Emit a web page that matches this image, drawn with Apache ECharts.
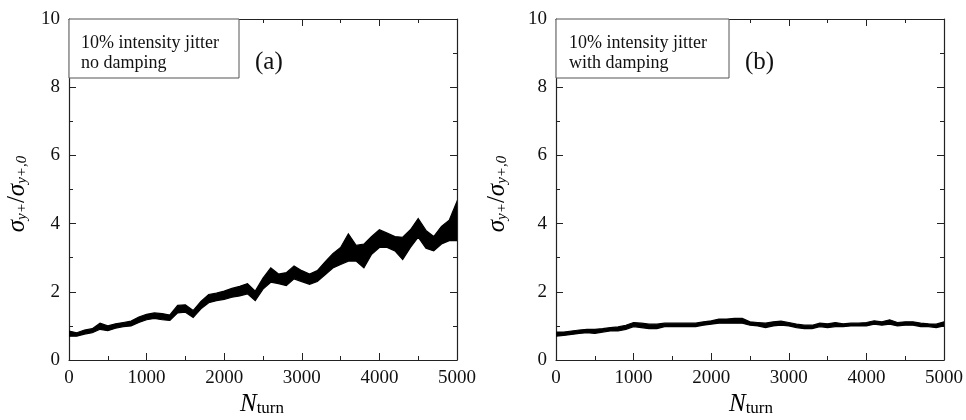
<!DOCTYPE html>
<html>
<head>
<meta charset="utf-8">
<script src="https://cdn.jsdelivr.net/npm/echarts@6/dist/echarts.min.js"></script>
<style>html,body{margin:0;padding:0;background:#fff}#c{width:966px;height:420px}</style>
</head>
<body>
<div id="c"></div>
<script>
// Turn numbers (every 100 turns)
const turns = [0,100,200,300,400,500,600,700,800,900,1000,1100,1200,1300,1400,1500,1600,1700,1800,1900,2000,2100,2200,2300,2400,2500,2600,2700,2800,2900,3000,3100,3200,3300,3400,3500,3600,3700,3800,3900,4000,4100,4200,4300,4400,4500,4600,4700,4800,4900,5000];
// Panel (a): no damping - lower / upper edge of the jitter band
const aLow  = [0.70,0.70,0.76,0.80,0.90,0.86,0.93,0.98,1.00,1.10,1.18,1.22,1.18,1.16,1.38,1.40,1.25,1.50,1.68,1.74,1.78,1.84,1.88,1.94,1.74,2.08,2.28,2.24,2.18,2.38,2.30,2.22,2.30,2.50,2.70,2.80,2.90,2.90,2.70,3.10,3.30,3.30,3.20,2.95,3.30,3.60,3.28,3.20,3.40,3.50,3.50];
const aHigh = [0.85,0.80,0.88,0.92,1.08,1.00,1.06,1.10,1.14,1.26,1.34,1.38,1.36,1.32,1.60,1.62,1.45,1.72,1.92,1.96,2.02,2.10,2.16,2.24,2.02,2.40,2.70,2.52,2.56,2.76,2.62,2.52,2.62,2.88,3.12,3.30,3.70,3.36,3.40,3.62,3.82,3.72,3.62,3.60,3.82,4.15,3.80,3.62,3.92,4.10,4.65];
// Panel (b): with damping
const bLow  = [0.70,0.72,0.75,0.78,0.80,0.78,0.82,0.85,0.85,0.90,0.98,0.95,0.92,0.92,0.98,0.98,0.98,0.98,0.98,1.02,1.05,1.08,1.08,1.08,1.08,1.02,1.00,0.95,1.00,1.02,1.00,0.95,0.92,0.92,0.98,0.95,0.98,0.98,1.00,1.00,1.00,1.05,1.02,1.05,1.00,1.02,1.02,0.98,0.98,0.95,1.00];
const bHigh = [0.82,0.82,0.85,0.88,0.90,0.90,0.92,0.95,0.97,1.02,1.10,1.08,1.05,1.05,1.08,1.08,1.08,1.08,1.08,1.12,1.15,1.20,1.20,1.22,1.22,1.12,1.10,1.08,1.12,1.14,1.10,1.05,1.02,1.02,1.08,1.06,1.10,1.06,1.08,1.08,1.10,1.15,1.12,1.18,1.10,1.12,1.12,1.08,1.06,1.05,1.12];
const xTicks = [0,1000,2000,3000,4000,5000];
const yTicks = [0,2,4,6,8,10];
const boxTexts = [['10% intensity jitter','no damping'],['10% intensity jitter','with damping']];
const panelTags = ['(a)','(b)'];

const chart = echarts.init(document.getElementById('c'));
const FONT = 'Liberation Serif';
const AX = '#222';
const grids = [
  {left:69, right:509, top:19, bottom:60},
  {left:556, right:21, top:19, bottom:60}
];
function xAx(g, pos){
  return {type:'value', gridIndex:g, position:pos, min:xTicks[0], max:xTicks[xTicks.length-1], interval:1000,
    axisLine:{show:true, onZero:false, lineStyle:{color:AX, width:1.2}},
    axisTick:{show:true, inside:true, length:7, lineStyle:{color:AX, width:1}},
    minorTick:{show:true, splitNumber:2, length:4, lineStyle:{color:AX, width:1}},
    splitLine:{show:false},
    axisLabel:{show:pos==='bottom', margin:9, fontFamily:FONT, fontSize:19, color:'#111', formatter:v=>String(v)}};
}
function yAx(g, pos){
  return {type:'value', gridIndex:g, position:pos, min:yTicks[0], max:yTicks[yTicks.length-1], interval:2,
    axisLine:{show:true, onZero:false, lineStyle:{color:AX, width:1.2}},
    axisTick:{show:true, inside:true, length:7, lineStyle:{color:AX, width:1}},
    minorTick:{show:true, splitNumber:2, length:4, lineStyle:{color:AX, width:1}},
    splitLine:{show:false},
    axisLabel:{show:pos==='left', margin:9, fontFamily:FONT, fontSize:19, color:'#111', formatter:v=>String(v)}};
}
function band(lo, hi, xi, yi){
  return {type:'custom', xAxisIndex:xi, yAxisIndex:yi, silent:true, clip:true,
    data: turns.map((t,i)=>[t, lo[i], hi[i]]),
    renderItem: function(params, api){
      if (params.dataIndex !== 0) return null;
      const pts = [];
      for (let i=0;i<turns.length;i++) pts.push(api.coord([turns[i], hi[i]]));
      for (let i=turns.length-1;i>=0;i--) pts.push(api.coord([turns[i], lo[i]]));
      return {type:'polygon', shape:{points:pts}, style:{fill:'#000', stroke:'#000', lineWidth:1.2}};
    }
  };
}
const rich = {
  s:{fontFamily:FONT, fontStyle:'italic', fontSize:25, lineHeight:26, color:'#111'},
  sl:{fontFamily:FONT, fontSize:25, lineHeight:26, color:'#111'},
  sub:{fontFamily:FONT, fontStyle:'italic', fontSize:15, lineHeight:14, verticalAlign:'bottom', color:'#111'}
};
const xrich = {
  n:{fontFamily:FONT, fontStyle:'italic', fontSize:25, lineHeight:26, color:'#111'},
  t:{fontFamily:FONT, fontSize:17, lineHeight:14, verticalAlign:'bottom', color:'#111'}
};
const graphics = [];
[[69,239,81,255,17,262],[556,729,569,745,497,751]].forEach((p,k)=>{
  graphics.push({type:'rect', z:100, shape:{x:p[0], y:19, width:p[1]-p[0], height:59},
    style:{fill:'#fff', stroke:'#555', lineWidth:1}});
  graphics.push({type:'text', z:101, x:p[2], y:43, style:{text:boxTexts[k][0], fontFamily:FONT, fontSize:18, fill:'#111', verticalAlign:'middle'}});
  graphics.push({type:'text', z:101, x:p[2], y:63, style:{text:boxTexts[k][1], fontFamily:FONT, fontSize:18, fill:'#111', verticalAlign:'middle'}});
  graphics.push({type:'text', z:101, x:p[3], y:62, style:{text:panelTags[k], fontFamily:FONT, fontSize:25, fill:'#111', verticalAlign:'middle'}});
  graphics.push({type:'text', z:101, x:p[4], y:194, rotation:Math.PI/2,
    style:{text:'{s|σ}{sub|y+}{sl|/}{s|σ}{sub|y+,0}', rich:rich, align:'center', verticalAlign:'middle'}});
  graphics.push({type:'text', z:101, x:p[5], y:404,
    style:{text:'{n|N}{t|turn}', rich:xrich, align:'center', verticalAlign:'middle'}});
});
chart.setOption({
  animation:false,
  backgroundColor:'#fff',
  grid:grids,
  xAxis:[xAx(0,'bottom'), xAx(0,'top'), xAx(1,'bottom'), xAx(1,'top')],
  yAxis:[yAx(0,'left'), yAx(0,'right'), yAx(1,'left'), yAx(1,'right')],
  series:[band(aLow,aHigh,0,0), band(bLow,bHigh,2,2)],
  graphic:graphics
});
</script>
</body>
</html>
